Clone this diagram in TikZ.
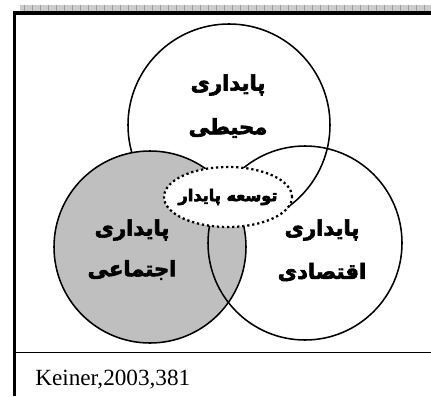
\documentclass[tikz,border=0pt]{standalone}
\usepackage{fontspec}
\setmainfont{Liberation Serif}
\newfontfamily\farsifont[Script=Arabic]{DejaVu Sans Bold}
\TeXXeTstate=1
\usetikzlibrary{shapes.geometric}
% heavier strokes for the Persian labels
\newcommand\heavy[1]{\special{pdf:literal direct 2 Tr 0.45 w}#1\special{pdf:literal direct 0 Tr}}
\tikzset{
  ring/.style={draw, line width=1.1pt},
  fa/.style={font=\farsifont\fontsize{15}{17}\selectfont},
  hub/.style={ellipse, draw, fill=white, line width=1.6pt, dotted, minimum width=3.2cm, minimum height=1.5cm, inner sep=0pt}
}

\begin{document}
\begin{tikzpicture}
    \useasboundingbox (0,0) rectangle (10.775,9.9);
    % frame
    \fill[gray!40] (0.5,9.625) rectangle (10.775,9.775);
    \foreach \x in {0.6,0.8,...,10.7} \draw[gray!75, line width=0.4pt] (\x,9.625) -- (\x,9.775);
    \draw[line width=2.2pt] (0.3625,0) -- (0.3625,9.575) -- (10.775,9.575);
    \draw[line width=1pt] (0.3625,1.0875) -- (10.775,1.0875);
    \node[anchor=base west, inner sep=0pt] (src) at (0.875,0.275) {\fontsize{16.5}{18}\selectfont Keiner,2003,381};
    % circles
    \draw[ring] (5.725,6.775) circle (2.525);
    \draw[ring, fill=gray!50] (3.75,3.725) circle (2.4);
    \draw[ring] (7.625,3.825) circle (2.425);
    \node[hub] (core) at (5.7,4.975) {};
    \node[fa] (envA) at (5.7,7.775) {\heavy{\beginR پایداری\endR}};
    \node[fa] (envB) at (5.7,6.7) {\heavy{\beginR محیطی\endR}};
    \node[fa] (socA) at (3.3,4.15) {\heavy{\beginR پایداری\endR}};
    \node[fa] (socB) at (3.3,3.15) {\heavy{\beginR اجتماعی\endR}};
    \node[fa] (ecoA) at (8.05,4.15) {\heavy{\beginR پایداری\endR}};
    \node[fa] (ecoB) at (8.05,3.1) {\heavy{\beginR اقتصادی\endR}};
    \node[fa, font=\farsifont\fontsize{11.5}{13}\selectfont] (coreT) at (core) {\heavy{\beginR توسعه پایدار\endR}};
\end{tikzpicture}
\end{document}
